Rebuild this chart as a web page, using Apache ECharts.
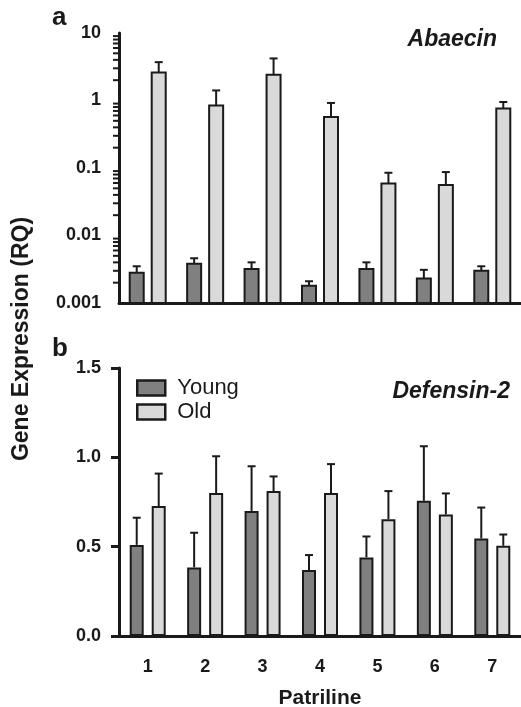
<!DOCTYPE html>
<html>
<head>
<meta charset="utf-8">
<script src="https://cdn.jsdelivr.net/npm/echarts@6/dist/echarts.min.js"></script>
<style>
html, body { margin: 0; padding: 0; background: #fff; }
#chart { width: 521px; height: 707px; }
</style>
</head>
<body>
<div id="chart"></div>
<script>
// patriline groups
const patrilines = ['1', '2', '3', '4', '5', '6', '7']

// panel a: Abaecin (log scale), mean and top of error bar
const abaecinYoung = [0.0028, 0.0038, 0.0032, 0.0018, 0.0032, 0.0023, 0.0030]
const abaecinYoungUpper = [0.0035, 0.0046, 0.0040, 0.0021, 0.0040, 0.0031, 0.0035]
const abaecinOld = [2.6, 0.84, 2.4, 0.57, 0.059, 0.056, 0.76]
const abaecinOldUpper = [3.7, 1.41, 4.2, 0.92, 0.085, 0.087, 0.95]

// panel b: Defensin-2 (linear scale)
const defensinYoung = [0.51, 0.384, 0.70, 0.369, 0.44, 0.757, 0.546]
const defensinYoungUpper = [0.662, 0.578, 0.95, 0.453, 0.557, 1.062, 0.719]
const defensinOld = [0.727, 0.80, 0.811, 0.80, 0.654, 0.68, 0.505]
const defensinOldUpper = [0.909, 1.006, 0.893, 0.962, 0.811, 0.798, 0.568]

// minor ticks on the log axis
const logMinorTicks = [
  0.002, 0.003, 0.004, 0.005, 0.006, 0.007, 0.008, 0.009,
  0.02, 0.03, 0.04, 0.05, 0.06, 0.07, 0.08, 0.09,
  0.2, 0.3, 0.4, 0.5, 0.6, 0.7, 0.8, 0.9,
  2, 3, 4, 5, 6, 7, 8, 9
]

const ink = '#1a1a1a'
const youngColor = '#808080'
const oldColor = '#d9d9d9'
const font = '"Liberation Sans", Arial, Helvetica, sans-serif'
const barW = 14
const barGapPx = 8
const offset = (barW + barGapPx) / 2
const logMin = 0.001

function logBarRender(dx, fill) {
  return function (params, api) {
    const top = api.coord([api.value(0), api.value(1)])
    const base = api.coord([api.value(0), logMin])
    const err = api.coord([api.value(0), api.value(2)])
    const x = top[0] + dx
    const line = { stroke: ink, lineWidth: 2 }
    return {
      type: 'group',
      children: [
        { type: 'line', shape: { x1: x, y1: top[1], x2: x, y2: err[1] }, style: line },
        { type: 'line', shape: { x1: x - 4, y1: err[1], x2: x + 4, y2: err[1] }, style: line },
        { type: 'rect', shape: { x: x - barW / 2, y: top[1], width: barW, height: base[1] - top[1] },
          style: { fill: fill, stroke: ink, lineWidth: 2 } }
      ]
    }
  }
}

function errRender(dx) {
  return function (params, api) {
    const top = api.coord([api.value(0), api.value(1)])
    const err = api.coord([api.value(0), api.value(2)])
    const x = top[0] + dx
    const line = { stroke: ink, lineWidth: 2 }
    return {
      type: 'group',
      children: [
        { type: 'line', shape: { x1: x, y1: top[1], x2: x, y2: err[1] }, style: line },
        { type: 'line', shape: { x1: x - 4, y1: err[1], x2: x + 4, y2: err[1] }, style: line }
      ]
    }
  }
}

const axisLine = { show: true, lineStyle: { color: ink, width: 3 } }
const labelStyle = { color: ink, fontSize: 18, fontWeight: 'bold', fontFamily: font }

const chart = echarts.init(document.getElementById('chart'))
chart.setOption({
  animation: false,
  backgroundColor: '#fff',
  grid: [
    { left: 119, top: 33, width: 403, height: 270 },
    { left: 119, top: 368, width: 403, height: 268 }
  ],
  legend: {
    data: ['Young', 'Old'],
    orient: 'vertical',
    left: 131,
    top: 372,
    icon: 'rect',
    itemWidth: 28,
    itemHeight: 15,
    itemGap: 2,
    itemStyle: { borderColor: ink, borderWidth: 2.5 },
    textStyle: { color: ink, fontSize: 22, fontFamily: font, padding: [0, 0, 0, 7] }
  },
  xAxis: [
    {
      type: 'category', gridIndex: 0, data: patrilines,
      axisLine: axisLine,
      axisTick: { alignWithLabel: true, length: 10, lineStyle: { color: ink, width: 3 } },
      axisLabel: { show: false }
    },
    {
      type: 'category', gridIndex: 1, data: patrilines,
      axisLine: axisLine,
      axisTick: { alignWithLabel: true, length: 10, lineStyle: { color: ink, width: 3 } },
      axisLabel: Object.assign({ margin: 22 }, labelStyle)
    }
  ],
  yAxis: [
    {
      type: 'log', logBase: 10, gridIndex: 0, min: 0.001, max: 10,
      axisLine: axisLine,
      axisTick: { length: 8, lineStyle: { color: ink, width: 3 } },
      axisLabel: Object.assign({ margin: 18 }, labelStyle),
      splitLine: { show: false }
    },
    {
      type: 'value', gridIndex: 1, min: 0, max: 1.5, interval: 0.5,
      axisLine: axisLine,
      axisTick: { show: true, length: 8, lineStyle: { color: ink, width: 3 } },
      axisLabel: Object.assign({ margin: 18, formatter: v => v.toFixed(1) }, labelStyle),
      splitLine: { show: false }
    }
  ],
  series: [
    {
      name: 'Young', type: 'bar', xAxisIndex: 1, yAxisIndex: 1,
      data: defensinYoung, barWidth: barW, barGap: (barGapPx / barW * 100) + '%',
      itemStyle: { color: youngColor, borderColor: ink, borderWidth: 2 }
    },
    {
      name: 'Old', type: 'bar', xAxisIndex: 1, yAxisIndex: 1,
      data: defensinOld, barWidth: barW,
      itemStyle: { color: oldColor, borderColor: ink, borderWidth: 2 }
    },
    {
      type: 'custom', xAxisIndex: 1, yAxisIndex: 1, z: 3,
      data: patrilines.map((p, i) => [i, defensinYoung[i], defensinYoungUpper[i]]),
      renderItem: errRender(-offset)
    },
    {
      type: 'custom', xAxisIndex: 1, yAxisIndex: 1, z: 3,
      data: patrilines.map((p, i) => [i, defensinOld[i], defensinOldUpper[i]]),
      renderItem: errRender(offset)
    },
    {
      type: 'custom', xAxisIndex: 0, yAxisIndex: 0,
      data: patrilines.map((p, i) => [i, abaecinYoung[i], abaecinYoungUpper[i]]),
      renderItem: logBarRender(-offset, youngColor)
    },
    {
      type: 'custom', xAxisIndex: 0, yAxisIndex: 0,
      data: patrilines.map((p, i) => [i, abaecinOld[i], abaecinOldUpper[i]]),
      renderItem: logBarRender(offset, oldColor)
    },
    {
      // minor ticks drawn at the left of the log axis
      type: 'custom', xAxisIndex: 0, yAxisIndex: 0, clip: false, silent: true,
      data: logMinorTicks.map(v => [0, v]),
      renderItem: function (params, api) {
        const y = api.coord([0, api.value(1)])[1]
        const x0 = params.coordSys.x
        return { type: 'line', shape: { x1: x0 - 6, y1: y, x2: x0, y2: y }, style: { stroke: ink, lineWidth: 2 } }
      }
    }
  ],
  graphic: [
    { type: 'text', x: 52, y: 18, style: { text: 'a', font: 'bold 26px ' + font, fill: ink, textVerticalAlign: 'middle' } },
    { type: 'text', x: 52, y: 349, style: { text: 'b', font: 'bold 26px ' + font, fill: ink, textVerticalAlign: 'middle' } },
    { type: 'text', x: 497, y: 40, style: { text: 'Abaecin', font: 'italic bold 23px ' + font, fill: ink, textAlign: 'right', textVerticalAlign: 'middle' } },
    { type: 'text', x: 510, y: 392, style: { text: 'Defensin-2', font: 'italic bold 23px ' + font, fill: ink, textAlign: 'right', textVerticalAlign: 'middle' } },
    { type: 'text', x: 22, y: 339, rotation: Math.PI / 2, style: { text: 'Gene Expression (RQ)', font: 'bold 23px ' + font, fill: ink, textAlign: 'center', textVerticalAlign: 'middle' } },
    { type: 'text', x: 320, y: 698, style: { text: 'Patriline', font: 'bold 21px ' + font, fill: ink, textAlign: 'center', textVerticalAlign: 'middle' } }
  ]
})
</script>
</body>
</html>
